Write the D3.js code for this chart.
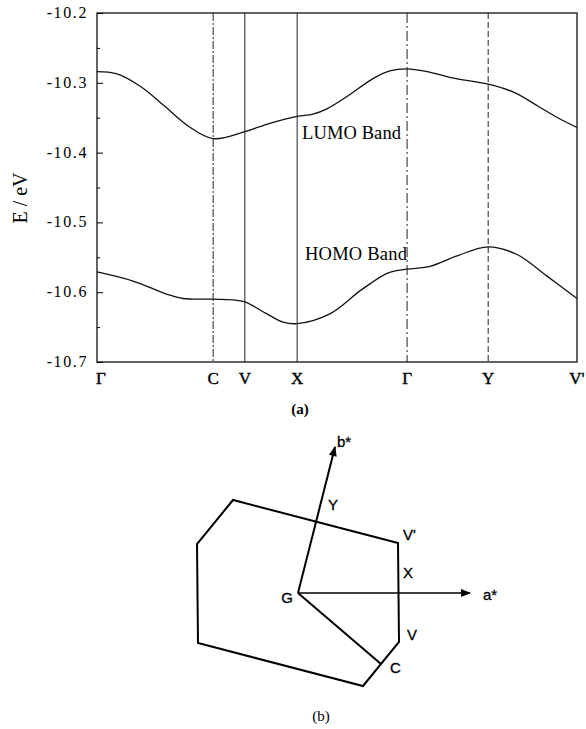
<!DOCTYPE html>
<html lang="en">
<head>
  <meta charset="UTF-8">
  <title>Band structure + Brillouin zone</title>
  <script src="https://d3js.org/d3.v7.min.js"></script>
  <style>
    body { margin: 0; background: #fff; }
    svg { display: block; }
    text { fill: #000; }
    .serif { font-family: 'Liberation Serif', 'DejaVu Serif', serif; }
    .sans { font-family: 'Liberation Sans', Arial, sans-serif; }
  </style>
</head>
<body>
<svg id="chart" width="586" height="729"></svg>
<script>
  // ---- (a) band structure data ----
  const kLabels = ["Γ", "C", "V", "X", "Γ", "Y", "V'"];
  const kPos = [0, 0.242, 0.308, 0.417, 0.646, 0.815, 1];
  const kLineStyle = ["none", "8,2,2,2", "none", "none", "10,3,2,3", "6,3", "none"];
  const eTicks = [-10.2, -10.3, -10.4, -10.5, -10.6, -10.7];

  const lumoK = [0, 0.04, 0.09, 0.14, 0.19, 0.242, 0.308, 0.36, 0.417, 0.45, 0.48, 0.52, 0.575, 0.61, 0.646, 0.688, 0.74, 0.815, 0.87, 0.92, 0.96, 1];
  const lumoE = [-10.284, -10.287, -10.305, -10.333, -10.362, -10.380, -10.370, -10.358, -10.348, -10.345, -10.337, -10.320, -10.294, -10.283, -10.280, -10.284, -10.293, -10.302, -10.314, -10.334, -10.350, -10.364];

  const homoK = [0, 0.075, 0.146, 0.179, 0.242, 0.283, 0.308, 0.354, 0.388, 0.417, 0.485, 0.552, 0.608, 0.646, 0.694, 0.75, 0.815, 0.875, 0.9375, 1];
  const homoE = [-10.571, -10.584, -10.603, -10.609, -10.610, -10.611, -10.614, -10.631, -10.643, -10.645, -10.631, -10.596, -10.572, -10.567, -10.563, -10.548, -10.535, -10.546, -10.577, -10.609];

  // ---- (b) Brillouin zone data (reciprocal units, G at origin) ----
  const zone = [[1.00, 0.50], [-0.65, 0.93], [-1.01, 0.49], [-1.00, -0.50], [0.65, -0.93], [1.01, -0.49]];
  const bStar = [0.37, 1.46];
  const aStar = [1.72, 0];

  const svg = d3.select("#chart");

  // scales for (a)
  const x = d3.scaleLinear().domain([0, 1]).range([97, 577]);
  const y = d3.scaleLinear().domain([-10.7, -10.2]).range([362, 13]);

  const gA = svg.append("g");

  // k-point vertical lines
  gA.append("g")
    .selectAll("line")
    .data(kPos.slice(1, -1))
    .enter().append("line")
    .attr("x1", d => x(d)).attr("x2", d => x(d))
    .attr("y1", y(-10.2)).attr("y2", y(-10.7))
    .attr("stroke", "#222")
    .attr("stroke-width", 1)
    .attr("stroke-dasharray", (d, i) => kLineStyle[i + 1] === "none" ? null : kLineStyle[i + 1]);

  // frame
  gA.append("rect")
    .attr("x", x(0)).attr("y", y(-10.2))
    .attr("width", x(1) - x(0)).attr("height", y(-10.7) - y(-10.2))
    .attr("fill", "none").attr("stroke", "#111").attr("stroke-width", 1.3);

  // y axis, ticks pointing inward
  const yAxis = d3.axisRight(y).tickValues(eTicks).tickSize(6).tickFormat("");
  gA.append("g").attr("transform", `translate(${x(0)},0)`).call(yAxis)
    .call(g => g.select(".domain").remove());
  const yMinor = d3.axisRight(y).tickValues(d3.range(-10.65, -10.2, 0.1)).tickSize(3).tickFormat("");
  gA.append("g").attr("transform", `translate(${x(0)},0)`).call(yMinor)
    .call(g => g.select(".domain").remove());

  gA.append("g").selectAll("text")
    .data(eTicks)
    .enter().append("text")
    .attr("class", "serif")
    .attr("x", 88).attr("y", d => y(d) + 5)
    .attr("text-anchor", "end")
    .attr("font-size", 16)
    .attr("letter-spacing", 1.6)
    .text(d => d3.format(".1f")(d).replace("−", "-"));

  gA.append("text")
    .attr("class", "serif")
    .attr("transform", "translate(27,198) rotate(-90)")
    .attr("text-anchor", "middle")
    .attr("font-size", 20)
    .text("E / eV");

  // k labels
  gA.append("g").selectAll("text")
    .data(kLabels)
    .enter().append("text")
    .attr("class", "serif")
    .attr("x", (d, i) => x(kPos[i]) + (i === 0 ? 4 : 0))
    .attr("y", 384)
    .attr("text-anchor", "middle")
    .attr("font-size", 17)
    .attr("stroke", "#000").attr("stroke-width", 0.4)
    .text(d => d);

  gA.append("text")
    .attr("class", "serif")
    .attr("x", 300).attr("y", 414)
    .attr("text-anchor", "middle")
    .attr("font-size", 15)
    .attr("font-weight", "bold")
    .text("(a)");

  // bands
  const band = d3.line()
    .x(d => x(d[0]))
    .y(d => y(d[1]))
    .curve(d3.curveCatmullRom.alpha(0.5));

  gA.append("path")
    .datum(d3.zip(lumoK, lumoE))
    .attr("d", band)
    .attr("fill", "none").attr("stroke", "#111").attr("stroke-width", 1.3);

  gA.append("path")
    .datum(d3.zip(homoK, homoE))
    .attr("d", band)
    .attr("fill", "none").attr("stroke", "#111").attr("stroke-width", 1.3);

  gA.append("text").attr("class", "serif")
    .attr("x", 302).attr("y", 139).attr("font-size", 18.5)
    .attr("textLength", 99)
    .text("LUMO Band");
  gA.append("text").attr("class", "serif")
    .attr("x", 305).attr("y", 260).attr("font-size", 18.5)
    .attr("textLength", 102)
    .text("HOMO Band");

  // ---- (b) ----
  const zx = d3.scaleLinear().domain([-1, 1]).range([198, 398]);
  const zy = d3.scaleLinear().domain([-1, 1]).range([693, 493]);
  const gB = svg.append("g");

  svg.append("defs").append("marker")
    .attr("id", "arrow")
    .attr("viewBox", "0 0 10 10")
    .attr("refX", 9).attr("refY", 5)
    .attr("markerWidth", 12).attr("markerHeight", 10)
    .attr("markerUnits", "userSpaceOnUse")
    .attr("orient", "auto")
    .append("path").attr("d", "M0,1 L10,5 L0,9 Z").attr("fill", "#000");

  gB.append("path")
    .datum(zone)
    .attr("d", d3.line().x(d => zx(d[0])).y(d => zy(d[1])).curve(d3.curveLinearClosed))
    .attr("fill", "none").attr("stroke", "#000").attr("stroke-width", 2)
    .attr("stroke-linejoin", "miter");

  const cPt = [(zone[4][0] + zone[5][0]) / 2, (zone[4][1] + zone[5][1]) / 2];

  gB.append("line")
    .attr("x1", zx(0)).attr("y1", zy(0)).attr("x2", zx(cPt[0])).attr("y2", zy(cPt[1]))
    .attr("stroke", "#000").attr("stroke-width", 2);
  gB.append("line")
    .attr("x1", zx(0)).attr("y1", zy(0)).attr("x2", zx(bStar[0])).attr("y2", zy(bStar[1]))
    .attr("stroke", "#000").attr("stroke-width", 2).attr("marker-end", "url(#arrow)");
  gB.append("line")
    .attr("x1", zx(0)).attr("y1", zy(0)).attr("x2", zx(aStar[0])).attr("y2", zy(aStar[1]))
    .attr("stroke", "#000").attr("stroke-width", 1.3).attr("marker-end", "url(#arrow)");

  const zLabels = [
    { t: "b*", p: [0.39, 1.46], a: "start" },
    { t: "Y", p: [0.30, 0.83], a: "start" },
    { t: "V'", p: [1.05, 0.53], a: "start" },
    { t: "X", p: [1.05, 0.15], a: "start" },
    { t: "G", p: [-0.05, -0.10], a: "end" },
    { t: "a*", p: [1.85, -0.07], a: "start" },
    { t: "V", p: [1.09, -0.47], a: "start" },
    { t: "C", p: [0.92, -0.80], a: "start" }
  ];
  gB.append("g").selectAll("text")
    .data(zLabels)
    .enter().append("text")
    .attr("class", "sans")
    .attr("x", d => zx(d.p[0])).attr("y", d => zy(d.p[1]))
    .attr("text-anchor", d => d.a)
    .attr("font-size", 15)
    .attr("stroke", "#000").attr("stroke-width", 0.3)
    .text(d => d.t);

  gB.append("text")
    .attr("class", "serif")
    .attr("x", 321).attr("y", 721)
    .attr("text-anchor", "middle")
    .attr("font-size", 15)
    .text("(b)");
</script>
</body>
</html>
